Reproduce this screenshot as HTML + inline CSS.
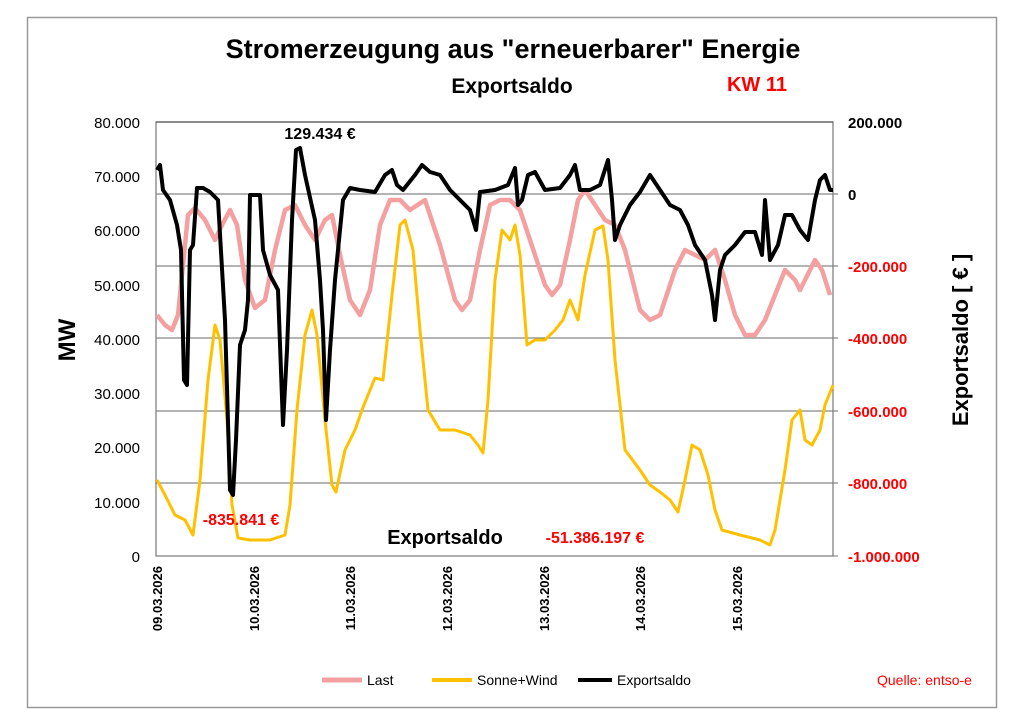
<!DOCTYPE html><html><head><style>body{margin:0;background:#fff}svg{display:block}</style></head><body>
<svg width="1024" height="724" xmlns="http://www.w3.org/2000/svg" font-family="Liberation Sans, Arial, sans-serif">
<rect x="0" y="0" width="1024" height="724" fill="#fff"/>
<rect x="27.5" y="17.5" width="969" height="690" fill="#fff" stroke="#999" stroke-width="1.5"/>
<g stroke="#888" stroke-width="1.2">
<line x1="156" y1="266" x2="838" y2="266"/><line x1="156" y1="338" x2="838" y2="338"/><line x1="156" y1="411" x2="838" y2="411"/><line x1="156" y1="483" x2="838" y2="483"/>
<line x1="156" y1="194" x2="838" y2="194"/>
</g>
<rect x="156" y="122" width="677" height="434" fill="none" stroke="#777" stroke-width="1.2"/>
<line x1="156" y1="122" x2="833" y2="122" stroke="#333"/>
<line x1="833" y1="556" x2="838" y2="556" stroke="#777"/>
<polyline fill="none" stroke="#f4a0a0" stroke-width="4.5" stroke-linejoin="round" points="157,315 165,325 172,330 178,315 183,265 188,215 195,208 205,220 215,240 222,225 230,210 237,225 245,280 255,308 265,300 275,250 285,210 295,205 305,225 315,240 325,220 332,215 340,255 350,300 360,315 370,290 380,225 390,200 400,200 410,210 425,200 440,245 455,300 462,310 470,300 480,250 490,205 500,200 510,200 520,210 530,240 545,285 552,295 560,285 570,240 578,200 585,190 595,205 605,220 615,225 625,250 640,310 650,320 660,315 675,270 685,250 695,255 705,260 715,250 725,280 735,315 745,335 755,335 765,320 775,295 785,270 795,280 800,290 810,270 815,260 822,270 830,295"/>
<polyline fill="none" stroke="#ffc000" stroke-width="3" stroke-linejoin="round" points="157,480 165,495 175,515 185,520 193,535 200,480 208,380 215,325 220,340 227,420 232,505 238,538 250,540 270,540 285,535 290,505 297,410 305,335 312,310 317,335 325,420 332,485 336,492 345,450 355,430 362,410 370,390 375,378 383,380 392,295 400,225 405,220 413,250 420,330 428,410 440,430 455,430 470,435 478,445 483,453 488,400 495,280 502,230 510,240 515,225 520,255 527,345 535,340 545,340 555,330 563,320 570,300 578,320 585,275 595,230 603,226 608,260 615,360 625,450 640,470 650,485 660,492 670,500 678,512 685,480 692,445 700,450 708,475 715,510 722,530 740,535 760,540 770,545 775,530 785,470 792,420 800,410 805,440 812,445 820,430 825,405 833,385"/>
<polyline fill="none" stroke="#000" stroke-width="4" stroke-linejoin="round" points="157,170 160,165 163,190 170,200 177,225 181,250 184,380 187,385 190,250 193,245 197,188 203,188 210,192 218,200 225,320 230,490 233,495 236,440 240,345 245,330 248,300 250,195 260,195 263,250 270,275 278,290 283,425 287,350 292,220 296,150 300,148 305,175 315,220 320,280 323,330 326,420 330,350 335,280 343,200 350,188 360,190 375,192 385,175 392,170 397,185 403,190 415,175 422,165 430,172 440,175 450,190 460,200 470,210 476,230 480,192 495,190 508,185 515,168 518,205 522,200 528,175 535,172 545,190 560,188 570,175 575,165 580,190 590,190 600,185 608,160 612,200 615,240 620,225 630,205 640,192 650,175 660,190 670,205 680,210 688,225 695,245 705,260 712,295 715,320 720,270 725,255 735,245 745,232 755,232 762,255 765,200 770,260 778,245 785,215 792,215 800,230 808,240 815,200 820,180 825,175 830,190 833,190"/>
<g font-size="15" text-anchor="end" fill="#000">
<text x="140" y="128">80.000</text><text x="140" y="182">70.000</text><text x="140" y="236">60.000</text><text x="140" y="291">50.000</text><text x="140" y="345">40.000</text><text x="140" y="399">30.000</text><text x="140" y="453">20.000</text><text x="140" y="508">10.000</text><text x="140" y="562">0</text>
</g>
<g font-size="15" font-weight="bold">
<text x="848" y="128" fill="#000">200.000</text><text x="848" y="200" fill="#000">0</text>
<g fill="#f00"><text x="848" y="272">-200.000</text><text x="848" y="344">-400.000</text><text x="848" y="417">-600.000</text><text x="848" y="489">-800.000</text><text x="848" y="562">-1.000.000</text></g>
</g>
<g font-size="13" font-weight="bold" text-anchor="end">
<text transform="translate(162,566) rotate(-90)">09.03.2026</text>
<text transform="translate(259,566) rotate(-90)">10.03.2026</text>
<text transform="translate(355,566) rotate(-90)">11.03.2026</text>
<text transform="translate(452,566) rotate(-90)">12.03.2026</text>
<text transform="translate(549,566) rotate(-90)">13.03.2026</text>
<text transform="translate(645,566) rotate(-90)">14.03.2026</text>
<text transform="translate(742,566) rotate(-90)">15.03.2026</text>
</g>
<text x="513" y="58" font-size="27" font-weight="bold" text-anchor="middle">Stromerzeugung aus "erneuerbarer" Energie</text>
<text x="512" y="93" font-size="21" font-weight="bold" text-anchor="middle">Exportsaldo</text>
<text x="757" y="91" font-size="20" font-weight="bold" text-anchor="middle" fill="#f00">KW 11</text>
<text transform="translate(75,340) rotate(-90)" font-size="24" font-weight="bold" text-anchor="middle">MW</text>
<text transform="translate(968,340) rotate(-90)" font-size="22" font-weight="bold" text-anchor="middle">Exportsaldo [ € ]</text>
<text x="320" y="139" font-size="16" font-weight="bold" text-anchor="middle">129.434 €</text>
<text x="241" y="525" font-size="16" font-weight="bold" text-anchor="middle" fill="#f00">-835.841 €</text>
<text x="445" y="544" font-size="20" font-weight="bold" text-anchor="middle">Exportsaldo</text>
<text x="595" y="543" font-size="16" font-weight="bold" text-anchor="middle" fill="#f00">-51.386.197 €</text>
<g font-size="14">
<line x1="322" y1="680" x2="362" y2="680" stroke="#f4a0a0" stroke-width="5"/><text x="367" y="685">Last</text>
<line x1="432" y1="680" x2="472" y2="680" stroke="#ffc000" stroke-width="4"/><text x="477" y="685">Sonne+Wind</text>
<line x1="578" y1="680" x2="612" y2="680" stroke="#000" stroke-width="4"/><text x="617" y="685">Exportsaldo</text>
<text x="877" y="685" fill="#f00">Quelle: entso-e</text>
</g>
</svg></body></html>
